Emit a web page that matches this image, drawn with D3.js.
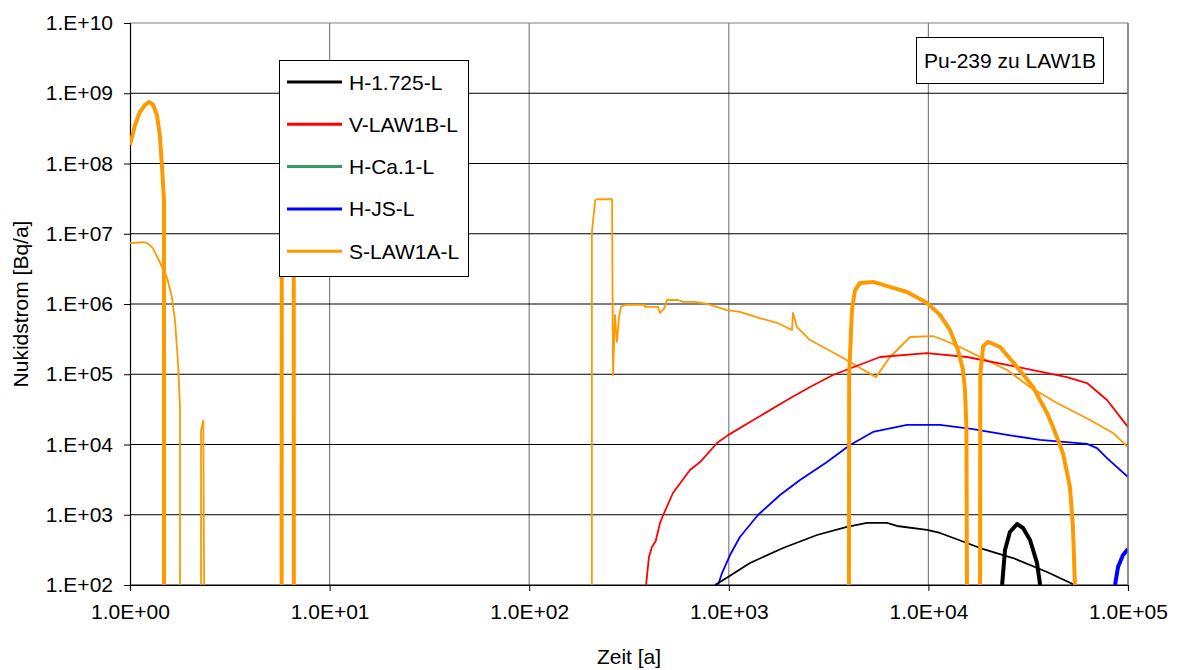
<!DOCTYPE html>
<html><head><meta charset="utf-8">
<script src="https://cdn.jsdelivr.net/npm/d3@7"></script>
<style>body{margin:0;background:#fff;} text{font-family:Arial,"Liberation Sans",sans-serif;}</style>
</head><body><svg id="c" width="1179" height="670"></svg>
<script>
// ---- data (x: Zeit [a], y: Nuklidstrom [Bq/a]); segments end at 1E+02 where they drop to the axis ----
const xTicks = [1, 10, 100, 1000, 10000, 100000];
const xTickLabels = ["1.0E+00","1.0E+01","1.0E+02","1.0E+03","1.0E+04","1.0E+05"];
const yTicks = [1e2,1e3,1e4,1e5,1e6,1e7,1e8,1e9,1e10];
const yTickLabels = ["1.E+02","1.E+03","1.E+04","1.E+05","1.E+06","1.E+07","1.E+08","1.E+09","1.E+10"];
const legendNames = ["H-1.725-L","V-LAW1B-L","H-Ca.1-L","H-JS-L","S-LAW1A-L"];
const legendColors = ["#000000","#ff0000","#339966","#0000ff","#ff9900"];

const h1725 = [[[853,100],[991,130],[1277,206],[1870,336],[2767,515],[3910,670],[4920,764],[6200,764],[6960,692],[9840,607],[11430,550],[15600,396],[18150,336],[26550,242],[39300,153],[54200,100]]];
const h1725b = [[[23400,100],[24200,315],[25600,568],[27800,738],[29800,647],[32300,437],[35000,206],[36300,100]]];
const vLaw1b = [[[385,100],[398,250],[412,348],[430,420],[452,760],[470,1000],[525,2040],[639,4340],[718,5630],[873,10500],[991,13600],[1277,20900],[1958,43000],[2552,66000],[3327,97600],[5727,176000],[9840,200000],[15600,176000],[27800,127000],[49400,91000],[62300,75000],[78500,43000],[100000,17700]]];
const hCa1 = [];
const hJs = [[[883,100],[925,148],[1014,267],[1137,482],[1400,991],[1806,1910],[2275,3125],[3105,5640],[4050,9840],[5280,15100],[7810,19000],[11430,19000],[16740,16600],[24770,13700],[36260,11600],[62300,10200],[69900,8900],[78500,6400],[100000,3450]]];
const hJsb = [[[86100,100],[89100,180],[94400,267],[100000,325]]];
const sLaw1a = [
  [[1.0,1.83e8],[1.06,3.53e8],[1.12,5.4e8],[1.19,6.8e8],[1.245,7.5e8],[1.30,7.0e8],[1.365,4.9e8],[1.41,2.55e8],[1.445,9.5e7],[1.48,3.0e7],[1.48,100]],
  [[5.75,100],[5.76,6e7],[6.2,8e7],[6.61,6e7],[6.62,100]],
  [[4000,100],[4010,1e5],[4140,8.2e5],[4290,1.58e6],[4540,1.99e6],[5280,2.06e6],[6420,1.75e6],[7810,1.48e6],[9860,1.03e6],[11430,7.0e5],[12830,4.26e5],[14070,2.2e5],[14900,1.15e5],[15250,6e4],[15500,1.8e4],[15600,100]],
  [[18150,100],[18200,1e5],[18800,2.5e5],[19900,2.9e5],[22850,2.44e5],[27800,1.27e5],[33400,6.6e4],[39300,2.81e4],[42100,1.77e4],[47200,7.6e3],[51200,2.48e3],[53000,670],[54200,100]]
];
const sLaw1aThin = [
  [[1.0,7.4e6],[1.084,7.4e6],[1.148,7.6e6],[1.217,7.4e6],[1.30,6.3e6],[1.41,3.96e6],[1.53,2.42e6],[1.62,1.26e6],[1.68,5.9e5],[1.74,1.45e5],[1.78,3.4e4],[1.78,100]],
  [[2.27,100],[2.27,1.6e4],[2.33,2.2e4],[2.35,100]],
  [[206,100],[206,1.03e7],[214,3.0e7],[219,3.1e7],[260,3.1e7],[263,9.7e4],[269,7.0e5],[275,2.88e5],[282,6.5e5],[288,9.1e5],[302,9.7e5],[380,9.7e5],[380,9.1e5],[442,9.1e5],[452,7.45e5],[473,8.5e5],[490,1.14e6],[556,1.14e6],[590,1.07e6],[677,1.07e6],[778,1.0e6],[870,9.1e5],[979,8.2e5],[1137,7.7e5],[1432,6.3e5],[1742,5.4e5],[2073,4.26e5],[2097,7.45e5],[2196,4.7e5],[2552,3.07e5],[3608,1.8e5],[5460,9.1e4],[6420,1.76e5],[8090,3.39e5],[10540,3.5e5],[11830,3.1e5],[14400,2.44e5],[18150,1.76e5],[24770,1.15e5],[32270,6.6e4],[44060,3.9e4],[64500,2.23e4],[84100,1.46e4],[100000,9.2e3]]
];

const series = [
  {data: sLaw1aThin, color: "#ff9900", width: 1.8},
  {data: vLaw1b, color: "#ff0000", width: 1.8},
  {data: hJs, color: "#0000ff", width: 1.8},
  {data: h1725, color: "#000000", width: 1.8},
  {data: hCa1, color: "#339966", width: 1.8},
  {data: hJsb, color: "#0000ff", width: 4},
  {data: h1725b, color: "#000000", width: 4},
  {data: sLaw1a, color: "#ff9900", width: 4}
];

// ---- layout ----
const L = 130, R = 1128, T = 23, B = 585;
const FS = 21;
const svg = d3.select("#c");
const x = d3.scaleLog().domain([1, 1e5]).range([L, R]);
const y = d3.scaleLog().domain([1e2, 1e10]).range([B, T]);

// grid
svg.append("g").selectAll("line").data(xTicks.slice(1)).join("line")
  .attr("x1", d => x(d)).attr("x2", d => x(d)).attr("y1", T).attr("y2", B)
  .attr("stroke", "#808080").attr("stroke-width", 1.2);
svg.append("g").selectAll("line").data(yTicks.slice(0, -1)).join("line")
  .attr("x1", L).attr("x2", R).attr("y1", d => y(d)).attr("y2", d => y(d))
  .attr("stroke", "#000").attr("stroke-width", 1);
svg.append("line").attr("x1", L).attr("x2", R).attr("y1", T).attr("y2", T).attr("stroke", "#808080").attr("stroke-width", 1.2);

// axes
const yAxis = d3.axisLeft(y).tickValues(yTicks).tickFormat((d, i) => yTickLabels[i]).tickSize(6).tickPadding(11);
const gy = svg.append("g").attr("transform", `translate(${L},0)`).call(yAxis);
const xAxis = d3.axisBottom(x).tickValues(xTicks).tickFormat((d, i) => xTickLabels[i]).tickSize(6).tickPadding(13);
const gx = svg.append("g").attr("transform", `translate(0,${B})`).call(xAxis);
[gx, gy].forEach(g => {
  g.select(".domain").attr("stroke", "#000").attr("stroke-width", 1.2);
  g.selectAll(".tick line").attr("stroke", "#000");
  g.selectAll("text").attr("font-size", FS).attr("fill", "#000").attr("font-family", "Arial, 'Liberation Sans', sans-serif");
});

// clip
svg.append("clipPath").attr("id", "clip").append("rect").attr("x", L).attr("y", T).attr("width", R - L).attr("height", B - T);
const lineGen = d3.line().x(d => x(d[0])).y(d => y(d[1]));
const plot = svg.append("g").attr("clip-path", "url(#clip)");
series.forEach(s => {
  s.data.forEach(seg => {
    plot.append("path").attr("d", lineGen(seg)).attr("fill", "none")
      .attr("stroke", s.color).attr("stroke-width", s.width).attr("stroke-linejoin", "round");
  });
});
svg.append("line").attr("x1", R).attr("x2", R).attr("y1", T).attr("y2", B).attr("stroke", "#808080").attr("stroke-width", 1.5);

// axis titles
svg.append("text").attr("x", (L + R) / 2).attr("y", 664).attr("text-anchor", "middle").attr("font-size", FS).text("Zeit [a]");
svg.append("text").attr("transform", `translate(28,${(T + B) / 2}) rotate(-90)`).attr("text-anchor", "middle").attr("font-size", FS).text("Nukidstrom [Bq/a]");

// legend
const lg = svg.append("g");
lg.append("rect").attr("x", 279.5).attr("y", 60.5).attr("width", 189).attr("height", 216).attr("fill", "#fff").attr("stroke", "#000").attr("stroke-width", 1);
legendNames.forEach((n, i) => {
  const yy = 82 + i * 42.3;
  lg.append("line").attr("x1", 287).attr("x2", 342).attr("y1", yy).attr("y2", yy).attr("stroke", legendColors[i]).attr("stroke-width", 3);
  lg.append("text").attr("x", 349).attr("y", yy + 7.5).attr("font-size", FS).text(n);
});

// annotation box
svg.append("rect").attr("x", 916.5).attr("y", 37.5).attr("width", 187).attr("height", 46).attr("fill", "#fff").attr("stroke", "#000");
svg.append("text").attr("x", 1010).attr("y", 67.5).attr("text-anchor", "middle").attr("font-size", FS).text("Pu-239 zu LAW1B");
</script></body></html>
